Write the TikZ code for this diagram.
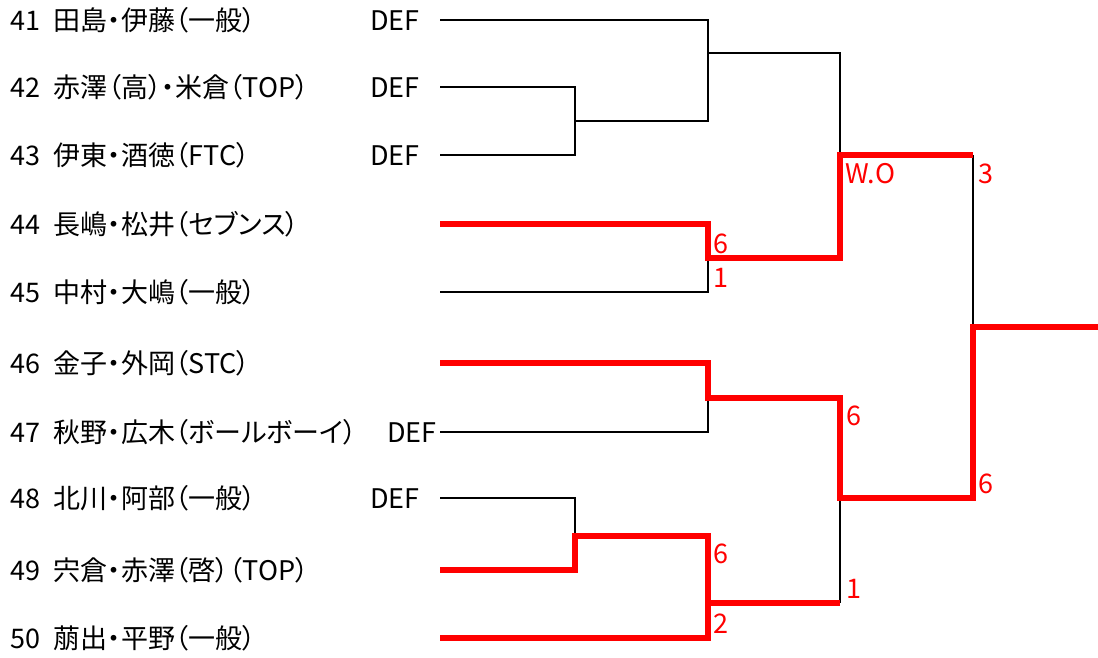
\documentclass[tikz,border=0pt]{standalone}
\usepackage{fontspec}
\setmainfont{Noto Sans CJK JP}[RawFeature=+palt]
\usepackage{tikz}
\usetikzlibrary{positioning}

\begin{document}
\begin{tikzpicture}[
x=1pt,y=-1pt,
font=\fontsize{27}{32}\selectfont,
lost/.style={line width=2.7pt},
won/.style={line width=5.6pt,color=red},
pair/.style={anchor=base west,inner sep=0pt},
def/.style={anchor=base east,inner sep=0pt},
score/.style={anchor=base west,inner sep=0pt,text=red},
scale=1]
\useasboundingbox (0,0) rectangle (1098,657);

% Draw pairs
\node[pair] (n41) at (10,30) {41\enspace 田島・伊藤（一般）};
\node[pair] (n42) at (10,97) {42\enspace 赤澤（高）・米倉（TOP）};
\node[pair] (n43) at (10,165) {43\enspace 伊東・酒徳（FTC）};
\node[pair] (n44) at (10,234) {44\enspace 長嶋・松井（セブンス）};
\node[pair] (n45) at (10,302) {45\enspace 中村・大嶋（一般）};
\node[pair] (n46) at (10,373) {46\enspace 金子・外岡（STC）};
\node[pair] (n47) at (10,442) {47\enspace 秋野・広木（ボールボーイ）};
\node[pair] (n48) at (10,508) {48\enspace 北川・阿部（一般）};
\node[pair] (n49) at (10,580) {49\enspace 宍倉・赤澤（啓）（TOP）};
\node[pair] (n50) at (10,648) {50\enspace 萠出・平野（一般）};

\node[def] (d41) at (420,30) {DEF};
\node[def] (d42) at (420,97) {DEF};
\node[def] (d43) at (420,165) {DEF};
\node[def] (d47) at (437,442) {DEF};
\node[def] (d48) at (420,508) {DEF};

% Draw bracket
\draw
(440,20) coordinate (s41)
(440,87) coordinate (s42)
(440,155) coordinate (s43)
(440,224) coordinate (s44)
(440,292) coordinate (s45)
(440,363) coordinate (s46)
(440,432) coordinate (s47)
(440,498) coordinate (s48)
(440,570) coordinate (s49)
(440,638) coordinate (s50)
(575,121) coordinate (a1)
(575,536) coordinate (a2)
(708,53) coordinate (b1)
(708,258) coordinate (b2)
(708,398) coordinate (b3)
(708,603) coordinate (b4)
(840,155) coordinate (c1)
(840,498) coordinate (c2)
(840,603) coordinate (u2)
(973,155) coordinate (t1)
(973,327) coordinate (f)
(1098,327) coordinate (win);

\draw[lost] (s42) -| (a1);
\draw[lost] (s43) -| (a1);
\draw[lost] (s41) -| (b1);
\draw[lost] (a1) -| (b1);
\draw[lost] (b1) -| (c1);
\draw[lost] (s45) -| (b2);
\draw[lost] (s47) -| (b3);
\draw[lost] (s48) -| (a2);
\draw[lost] (s50) -| (b4);
\draw[lost] (u2) -- (c2);
\draw[lost] (t1) -- (f);

\draw[won] (s44) -| (b2) -| (c1) -- (t1);
\draw[won] (s46) -| (b3) -| (c2) -| (f) -- (win);
\draw[won] (s49) -| (a2) -| (b4) -- (u2);
\draw[won] (s50) -| (b4);

% Scores
\node[score] (g44) at (713,253) {6};
\node[score] (g45) at (713,287) {1};
\node[score] (g1) at (845,183) {W.O};
\node[score] (g2) at (978,183) {3};
\node[score] (g3) at (846,425) {6};
\node[score] (g4) at (846,598) {1};
\node[score] (g5) at (978,493) {6};
\node[score] (g49) at (713,563) {6};
\node[score] (g50) at (713,633) {2};

\end{tikzpicture}
\end{document}
